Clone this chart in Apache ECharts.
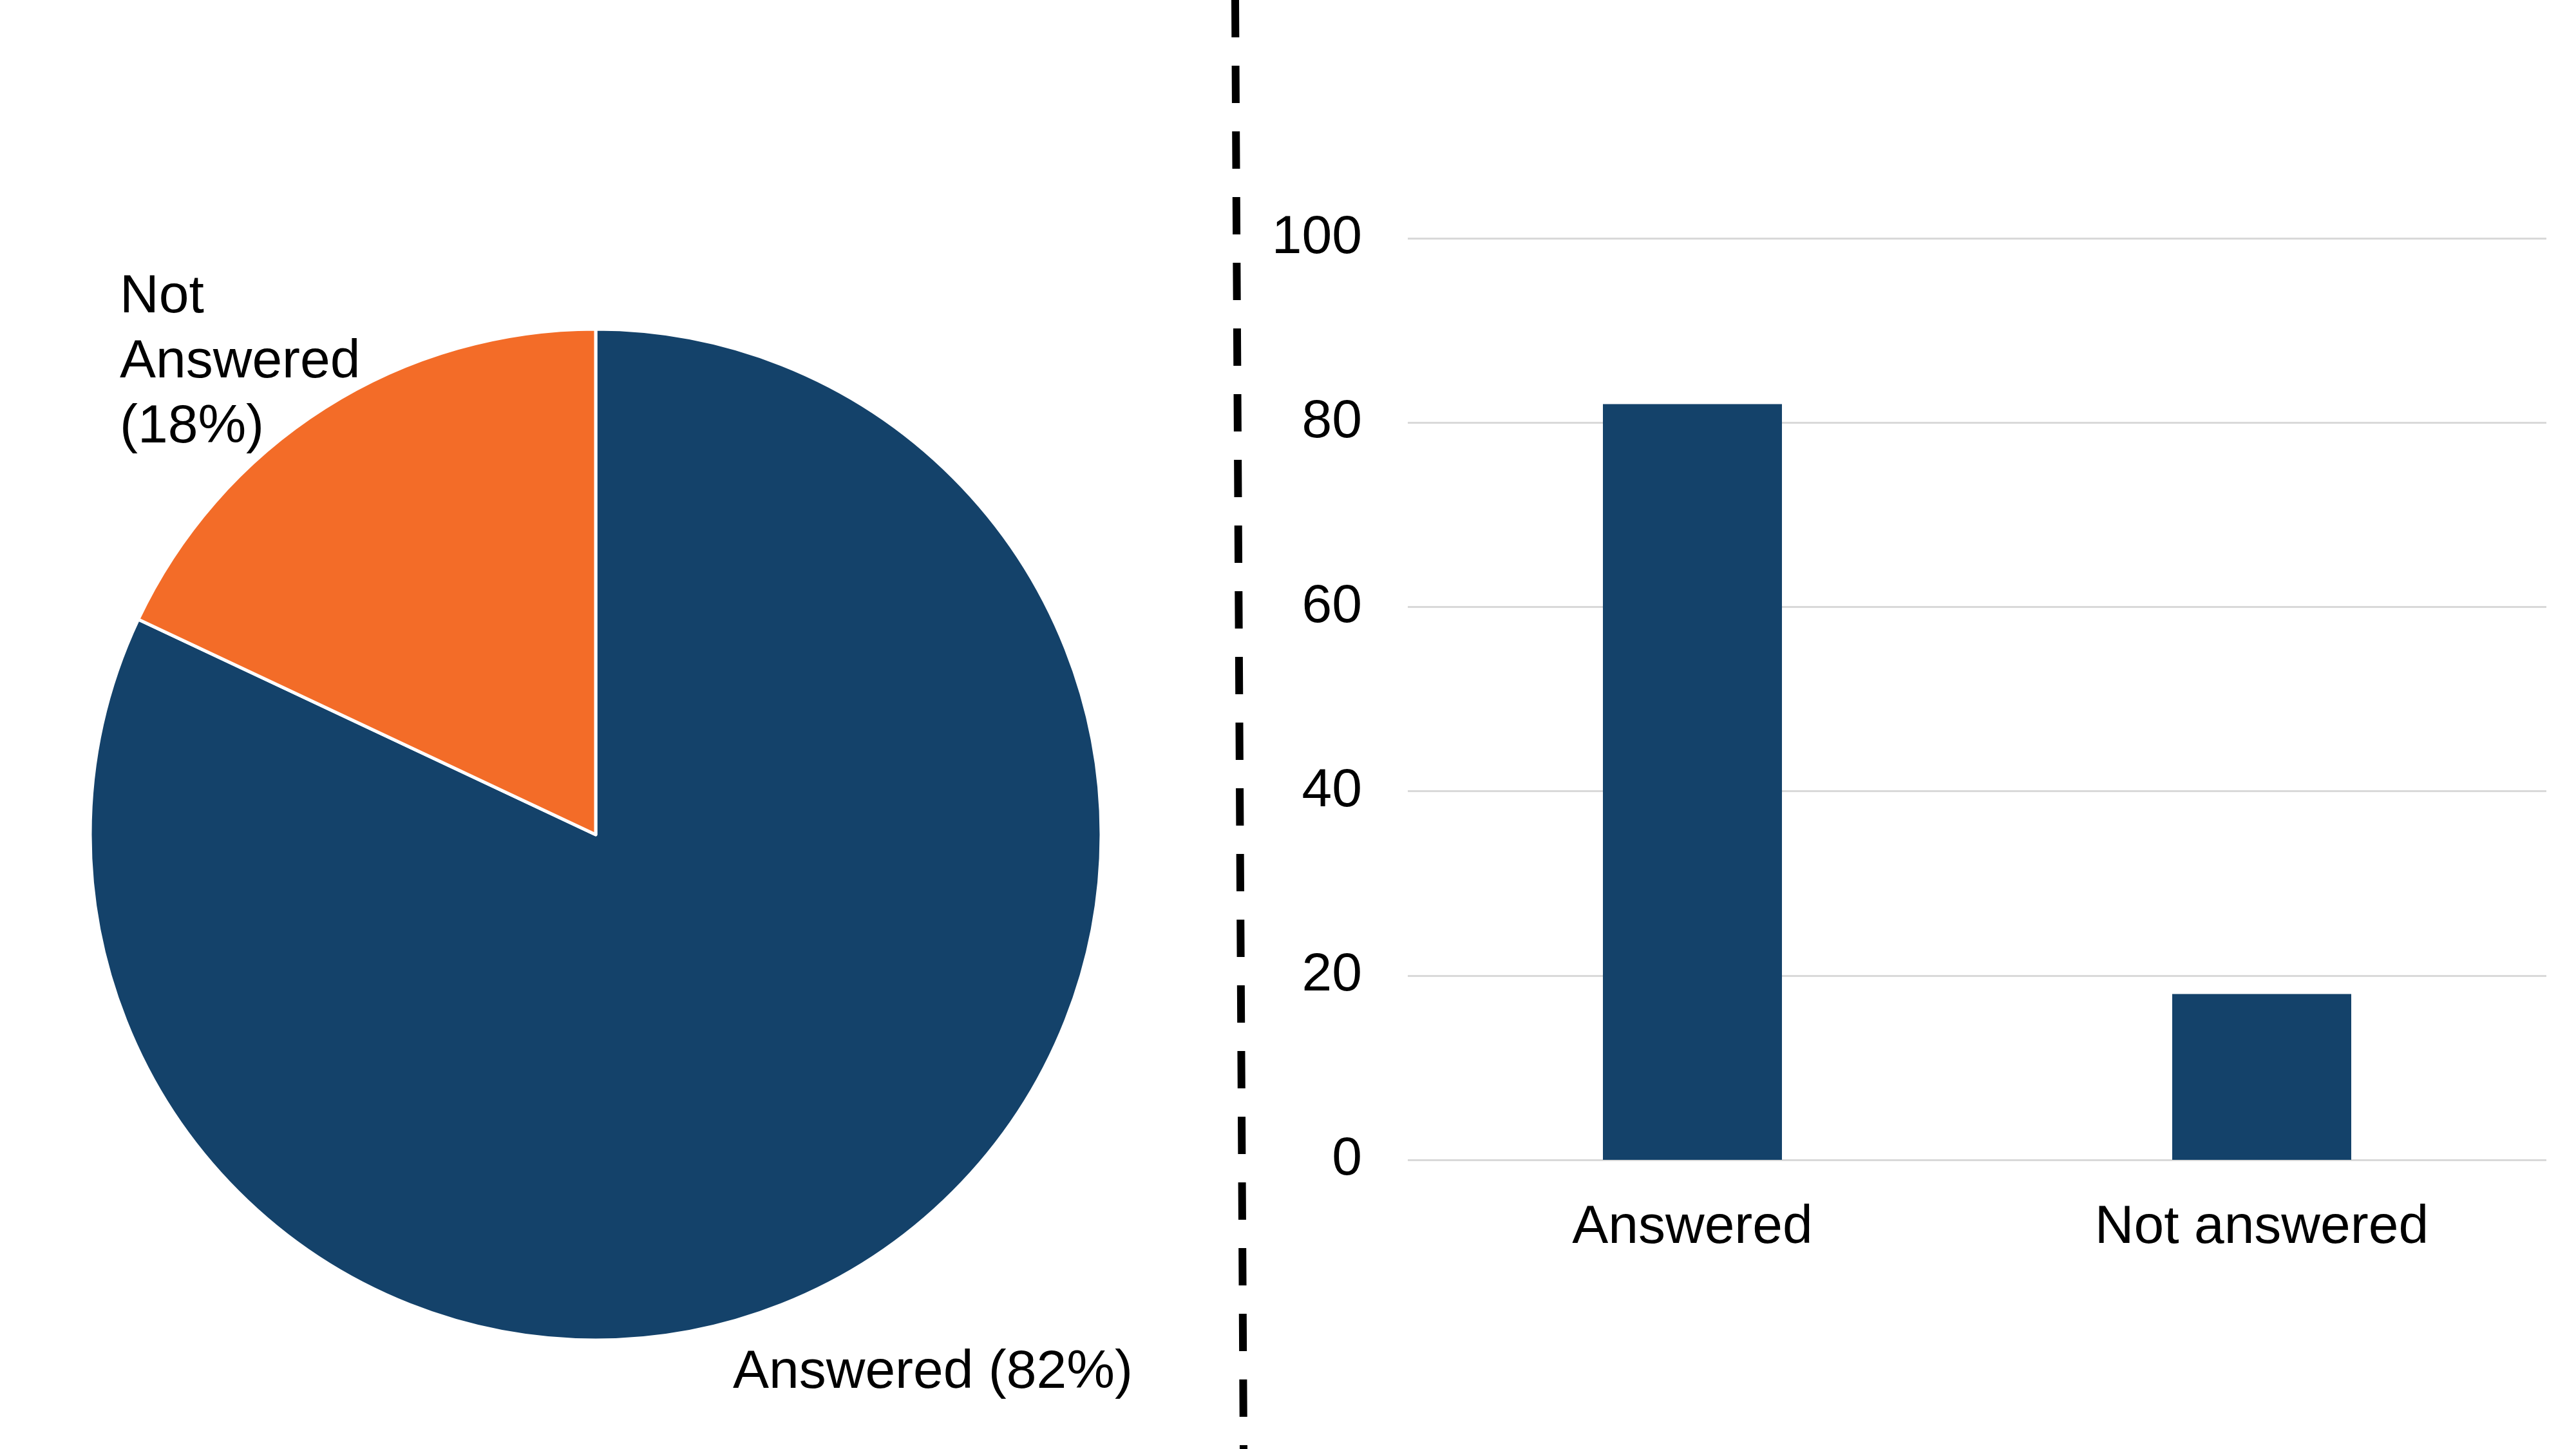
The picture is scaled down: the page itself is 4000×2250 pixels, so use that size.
<!DOCTYPE html>
<html>
<head>
<meta charset="utf-8">
<script src="https://cdn.jsdelivr.net/npm/echarts@6/dist/echarts.min.js"></script>
<style>html,body{margin:0;padding:0;background:#fff}#c{width:4000px;height:2250px}</style>
</head>
<body>
<div id="c"></div>
<script>
const pieNames = ['Answered', 'Not Answered'];
const pieValues = [82, 18];
const barCategories = ['Answered', 'Not answered'];
const barValues = [82, 18];
const yTicks = [0, 20, 40, 60, 80, 100];

const NAVY = '#14426a';
const ORANGE = '#f36c28';
const FONT = 'Liberation Sans, Arial, sans-serif';

const chart = echarts.init(document.getElementById('c'), null, {renderer: 'canvas'});
const option = {
  backgroundColor: '#ffffff',
  animation: false,
  textStyle: {fontFamily: FONT},
  grid: {left: 2186, right: 46, top: 370, bottom: 449, containLabel: false},
  xAxis: {
    type: 'category',
    data: barCategories,
    axisLine: {show: false},
    axisTick: {show: false},
    axisLabel: {fontSize: 84, color: '#000', margin: 64, fontFamily: FONT}
  },
  yAxis: {
    type: 'value',
    min: yTicks[0],
    max: yTicks[yTicks.length - 1],
    interval: yTicks[1] - yTicks[0],
    axisLine: {show: false},
    axisTick: {show: false},
    splitLine: {lineStyle: {color: '#d9d9d9', width: 3}},
    axisLabel: {fontSize: 84, color: '#000', margin: 71, fontFamily: FONT, padding: [18, 0, 0, 0]}
  },
  series: [
    {
      type: 'pie',
      center: [925, 1296],
      radius: 785,
      startAngle: 90,
      clockwise: true,
      itemStyle: {borderColor: '#ffffff', borderWidth: 5},
      labelLine: {show: false},
      label: {
        show: true,
        position: 'outside',
        fontSize: 84,
        lineHeight: 101,
        color: '#000',
        fontFamily: FONT,
        formatter: function (p) {
          return p.dataIndex === 0
            ? p.name + ' (' + p.value + '%)'
            : 'Not\nAnswered\n(' + p.value + '%)';
        }
      },
      labelLayout: function (p) {
        if (p.dataIndex === 0) {
          return {x: 1138, y: 2132, align: 'left', verticalAlign: 'middle'};
        }
        return {x: 186, y: 563, align: 'left', verticalAlign: 'middle'};
      },
      data: pieNames.map((n, i) => ({
        name: n,
        value: pieValues[i],
        itemStyle: {color: i === 0 ? NAVY : ORANGE}
      }))
    },
    {
      type: 'bar',
      data: barValues,
      barWidth: 278,
      itemStyle: {color: NAVY}
    }
  ],
  graphic: [
    {
      type: 'line',
      shape: {x1: 1918, y1: 0, x2: 1931, y2: 2250},
      style: {stroke: '#000', lineWidth: 12, lineDash: [58, 44]}
    }
  ]
};
chart.setOption(option);
</script>
</body>
</html>
